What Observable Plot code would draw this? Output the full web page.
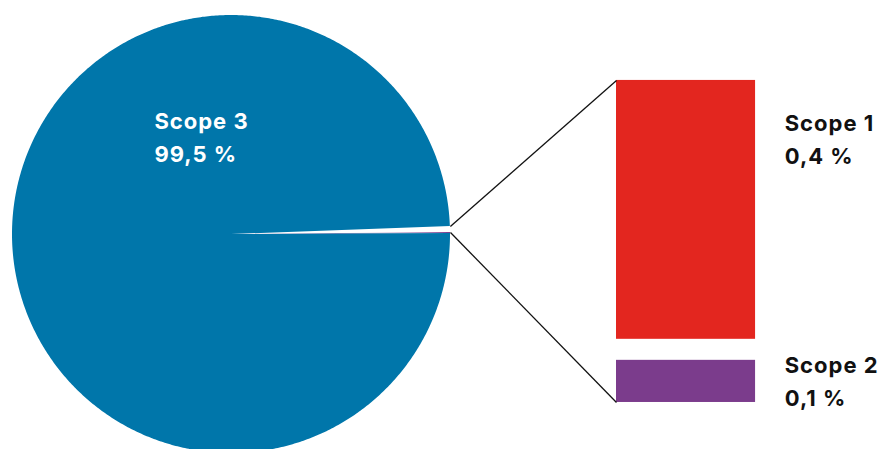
<!DOCTYPE html>
<html><head><meta charset="utf-8">
<script src="https://cdn.jsdelivr.net/npm/d3@7"></script>
<script src="https://cdn.jsdelivr.net/npm/@observablehq/plot@0.6"></script>
<style>body{margin:0;background:#fff;overflow:hidden}</style>
</head><body><div id="chart"></div>
<script>
// ---- data ----
const categories = ["Scope 2", "Scope 1", "Scope 3"];   // pie order, counter-clockwise
const shares = [0.07, 0.43, 99.5];                       // percent
const valueLabels = ["0,1 %", "0,4 %", "99,5 %"];
const pieColors = ["#7B3C8C", "#FFFFFF", "#0076AA"];
const barCategories = ["Scope 2", "Scope 1"];            // bottom to top
const barColors = ["#7B3C8C", "#E3261F"];

// ---- layout (units: pie radius = 1) ----
const R = 219, CX = 231, CY = 234, W = 890, H = 449;
const startDeg = 0.27;           // where the first slice starts (deg, CCW from 3 o'clock)
const barX1 = 1.758, barX2 = 2.393, barBase = -0.767, barGap = 0.096, unitsPerPct = 2.749;

// pie wedges
let acc = startDeg;
const wedges = [];
categories.forEach((c, i) => {
  const a0 = acc, a1 = acc + shares[i] * 3.6;
  acc = a1;
  const n = Math.max(2, Math.ceil((a1 - a0) / 0.5));
  for (let k = 0; k <= n; k++) {
    const a = (a0 + (a1 - a0) * k / n) * Math.PI / 180;
    wedges.push({name: c, color: pieColors[i], x: Math.cos(a), y: Math.sin(a), cx: 0, cy: 0});
  }
  wedges.push({name: c, color: pieColors[i], x: 0, y: 0, cx: 0, cy: 0});
});
const angleOf = c => { let a = startDeg; for (let i = 0; i < categories.length; i++) { if (categories[i] === c) return [a, a + shares[i] * 3.6]; a += shares[i] * 3.6; } };

// bars
let yb = barBase;
const bars = barCategories.map((c, i) => {
  const v = shares[categories.indexOf(c)];
  const y1 = yb + (i > 0 ? barGap : 0), y2 = y1 + v * unitsPerPct;
  yb = y2;
  return {name: c, color: barColors[i], x1: barX1, x2: barX2, y1, y2};
});

// connectors: Scope 1 slice edges to bar block corners
const [s1a0, s1a1] = angleOf("Scope 1");
const rad = d => d * Math.PI / 180;
const links = [
  {x1: Math.cos(rad(s1a1)), y1: Math.sin(rad(s1a1)), x2: barX1, y2: bars[1].y2},
  {x1: Math.cos(rad(s1a0)), y1: Math.sin(rad(s1a0)), x2: barX1, y2: bars[0].y1}
];

const lab = c => c + "\n" + valueLabels[categories.indexOf(c)];
const texts = [
  {t: lab("Scope 3"), x: -0.352, y: 0.590, fill: "#ffffff"},
  {t: lab("Scope 1"), x: 2.526, y: 0.583, fill: "#111111"},
  {t: lab("Scope 2"), x: 2.526, y: -0.522, fill: "#111111"}
];

const chart = Plot.plot({
  width: W, height: H, margin: 0,
  x: {domain: [-CX / R, (W - CX) / R], axis: null},
  y: {domain: [(CY - H) / R, CY / R], axis: null},
  color: {type: "identity"},
  style: {background: "#fff", fontFamily: "Inter, 'Noto Sans', sans-serif"},
  marks: [
    Plot.area(wedges, {x1: "x", y1: "y", x2: "cx", y2: "cy", z: "name", fill: "color", curve: "linear"}),
    Plot.rect(bars, {x1: "x1", x2: "x2", y1: "y1", y2: "y2", fill: "color"}),
    Plot.link(links, {x1: "x1", y1: "y1", x2: "x2", y2: "y2", stroke: "#111", strokeWidth: 1.3}),
    Plot.text(texts, {x: "x", y: "y", text: "t", fill: "fill", textAnchor: "start", lineAnchor: "top",
      fontSize: 22, fontWeight: "bold", lineHeight: 1.52})
  ]
});
chart.querySelectorAll("text").forEach(t => t.style.letterSpacing = "1px");
document.getElementById("chart").appendChild(chart);
</script>
</body></html>
